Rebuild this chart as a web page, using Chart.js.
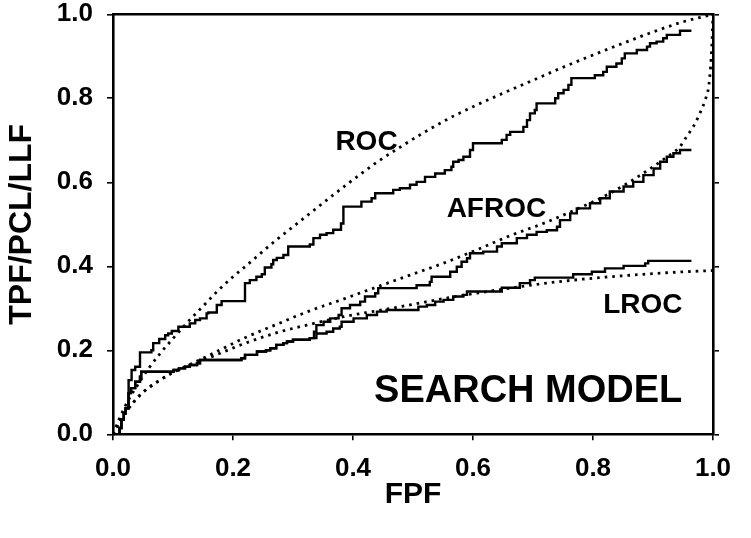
<!DOCTYPE html>
<html>
<head>
<meta charset="utf-8">
<script src="https://cdn.jsdelivr.net/npm/chart.js@4"></script>
<style>
  html, body { margin: 0; padding: 0; background: #fff; }
  #wrap { width: 751px; height: 538px; }
</style>
</head>
<body>
<div id="wrap"><canvas id="c" width="751" height="538"></canvas></div>
<script>
// ---- data (FPF, value) pairs ----
const rocEmpirical = [[0,0],[0.011,0.015],[0.014,0.035],[0.018,0.05],[0.021,0.062],[0.026,0.129],[0.031,0.153],[0.037,0.161],[0.045,0.195],[0.064,0.2],[0.067,0.217],[0.077,0.227],[0.087,0.236],[0.092,0.24],[0.098,0.246],[0.109,0.256],[0.128,0.264],[0.137,0.272],[0.145,0.276],[0.156,0.288],[0.159,0.29],[0.173,0.308],[0.181,0.317],[0.22,0.36],[0.228,0.367],[0.239,0.375],[0.248,0.381],[0.253,0.397],[0.264,0.405],[0.267,0.415],[0.273,0.42],[0.284,0.427],[0.292,0.447],[0.328,0.452],[0.334,0.467],[0.345,0.475],[0.356,0.479],[0.367,0.487],[0.38,0.502],[0.384,0.542],[0.414,0.554],[0.431,0.562],[0.437,0.574],[0.467,0.582],[0.478,0.586],[0.495,0.594],[0.506,0.601],[0.52,0.613],[0.537,0.621],[0.553,0.629],[0.564,0.637],[0.567,0.649],[0.576,0.653],[0.584,0.661],[0.595,0.677],[0.6,0.693],[0.648,0.701],[0.656,0.713],[0.662,0.72],[0.684,0.732],[0.69,0.748],[0.695,0.764],[0.703,0.772],[0.706,0.788],[0.737,0.8],[0.742,0.812],[0.751,0.82],[0.759,0.832],[0.764,0.848],[0.803,0.855],[0.817,0.863],[0.823,0.875],[0.839,0.883],[0.848,0.895],[0.853,0.907],[0.873,0.915],[0.89,0.923],[0.895,0.931],[0.906,0.935],[0.917,0.943],[0.923,0.951],[0.945,0.961],[0.964,0.961]];

const lowerSharedEmpirical = [[0,0],[0.011,0.015],[0.014,0.035],[0.018,0.05],[0.021,0.062],[0.026,0.098],[0.03,0.11],[0.037,0.125],[0.045,0.137],[0.047,0.149],[0.101,0.153],[0.11,0.157],[0.12,0.161],[0.128,0.165],[0.14,0.169],[0.145,0.177],[0.214,0.181],[0.22,0.189],[0.24,0.197],[0.255,0.2],[0.262,0.205],[0.272,0.213],[0.284,0.217],[0.29,0.221],[0.3,0.225],[0.328,0.229]];

const afrocEmpiricalTail = [[0.335,0.244],[0.339,0.26],[0.351,0.268],[0.362,0.276],[0.376,0.284],[0.381,0.3],[0.395,0.308],[0.412,0.316],[0.42,0.328],[0.437,0.336],[0.442,0.348],[0.506,0.355],[0.528,0.363],[0.531,0.375],[0.562,0.387],[0.573,0.399],[0.581,0.411],[0.59,0.419],[0.595,0.431],[0.617,0.435],[0.64,0.447],[0.648,0.455],[0.673,0.467],[0.69,0.475],[0.706,0.482],[0.723,0.486],[0.74,0.494],[0.745,0.51],[0.762,0.526],[0.773,0.538],[0.795,0.55],[0.812,0.562],[0.828,0.578],[0.851,0.59],[0.867,0.601],[0.884,0.617],[0.901,0.633],[0.912,0.649],[0.923,0.661],[0.934,0.669],[0.945,0.677],[0.964,0.677]];

const lrocEmpiricalTail = [[0.339,0.24],[0.356,0.244],[0.367,0.252],[0.378,0.256],[0.381,0.268],[0.401,0.276],[0.423,0.284],[0.44,0.292],[0.456,0.296],[0.509,0.304],[0.523,0.308],[0.537,0.316],[0.551,0.32],[0.567,0.328],[0.584,0.332],[0.59,0.34],[0.648,0.349],[0.678,0.36],[0.695,0.367],[0.703,0.373],[0.767,0.381],[0.798,0.387],[0.82,0.395],[0.851,0.401],[0.887,0.407],[0.892,0.413],[0.964,0.413]];

const rocModel = [[0,0],[0.01,0.035],[0.025,0.08],[0.04,0.115],[0.06,0.158],[0.08,0.195],[0.1,0.228],[0.125,0.268],[0.15,0.305],[0.175,0.342],[0.2,0.375],[0.225,0.405],[0.25,0.436],[0.275,0.466],[0.3,0.494],[0.33,0.528],[0.36,0.562],[0.4,0.606],[0.44,0.648],[0.48,0.685],[0.52,0.72],[0.56,0.752],[0.6,0.78],[0.65,0.812],[0.7,0.843],[0.75,0.874],[0.8,0.903],[0.85,0.931],[0.9,0.958],[0.95,0.982],[1,1]];

const afrocModel = [[0,0],[0.012,0.032],[0.023,0.056],[0.034,0.076],[0.05,0.1],[0.075,0.126],[0.1,0.147],[0.134,0.17],[0.17,0.195],[0.217,0.228],[0.273,0.262],[0.328,0.294],[0.384,0.322],[0.44,0.351],[0.495,0.379],[0.55,0.407],[0.606,0.439],[0.662,0.473],[0.717,0.502],[0.773,0.536],[0.83,0.575],[0.88,0.618],[0.92,0.657],[0.945,0.685],[0.956,0.709],[0.967,0.732],[0.978,0.764],[0.987,0.796],[0.993,0.83],[0.996,0.875],[0.998,0.923],[1,1]];

const lrocModel = [[0,0],[0.012,0.032],[0.023,0.056],[0.034,0.076],[0.05,0.1],[0.075,0.126],[0.1,0.147],[0.134,0.168],[0.17,0.188],[0.217,0.215],[0.273,0.242],[0.323,0.26],[0.384,0.28],[0.44,0.294],[0.495,0.308],[0.55,0.323],[0.606,0.336],[0.662,0.348],[0.717,0.359],[0.773,0.368],[0.828,0.375],[0.884,0.381],[0.939,0.386],[1,0.39]];

const tickValues = [0, 0.2, 0.4, 0.6, 0.8, 1.0];
const curveLabels = ['ROC', 'AFROC', 'LROC'];
const modelLabel = 'SEARCH MODEL';
const xTitle = 'FPF';
const yTitle = 'TPF/PCL/LLF';

// ---- build ----
const toPts = arr => arr.map(p => ({x: p[0], y: p[1]}));
const FONT = "'Liberation Sans', Arial, sans-serif";

const solid = (label, arr) => ({
  label, data: toPts(arr), stepped: 'before',
  borderColor: '#000', borderWidth: 2.4, pointRadius: 0, fill: false
});
const dotted = (label, arr) => ({
  label, data: toPts(arr), cubicInterpolationMode: 'monotone',
  borderColor: '#000', borderWidth: 2.8, borderDash: [2.6, 5], borderCapStyle: 'butt',
  pointRadius: 0, fill: false
});

// text annotation placement (data coords, baseline)
const annotations = [
  {text: curveLabels[0], x: 0.4225, y: 0.677, size: 28},
  {text: curveLabels[1], x: 0.639, y: 0.517, size: 28},
  {text: curveLabels[2], x: 0.883, y: 0.29, size: 28},
  {text: modelLabel, x: 0.692, y: 0.0776, size: 38}
];

const textPlugin = {
  id: 'texts',
  afterDatasetsDraw(chart) {
    const {ctx, scales} = chart;
    ctx.save();
    ctx.fillStyle = '#000';
    ctx.textAlign = 'center';
    ctx.textBaseline = 'alphabetic';
    annotations.forEach(a => {
      ctx.font = `bold ${a.size}px ${FONT}`;
      ctx.fillText(a.text, scales.x.getPixelForValue(a.x), scales.y.getPixelForValue(a.y));
    });
    ctx.restore();
  }
};

const tickCommon = {
  stepSize: 0.2,
  autoSkip: false,
  maxRotation: 0,
  color: '#000',
  font: {family: FONT, size: 26, weight: 'bold'},
  callback: v => (Math.round(v * 10) / 10).toFixed(1)
};
const gridCommon = {display: true, drawOnChartArea: false, drawTicks: true, tickLength: 6, color: '#000', lineWidth: 1.6};
const borderCommon = {display: true, color: '#000', width: 2.6};
const noPad = s => { s.paddingTop = 0; s.paddingBottom = 0; s.paddingLeft = 0; s.paddingRight = 0; };

new Chart(document.getElementById('c'), {
  type: 'line',
  data: {
    datasets: [
      solid('ROC empirical', rocEmpirical),
      solid('AFROC empirical', lowerSharedEmpirical.concat(afrocEmpiricalTail)),
      solid('LROC empirical', lowerSharedEmpirical.concat(lrocEmpiricalTail)),
      dotted('ROC model', rocModel),
      dotted('AFROC model', afrocModel),
      dotted('LROC model', lrocModel)
    ]
  },
  options: {
    responsive: false,
    devicePixelRatio: 1,
    animation: false,
    layout: {padding: 0},
    plugins: {legend: {display: false}, tooltip: {enabled: false}},
    scales: {
      x: {
        type: 'linear', position: 'bottom', min: 0, max: 1,
        afterBuildTicks: s => { s.ticks = tickValues.map(v => ({value: v})); },
        ticks: Object.assign({}, tickCommon, {padding: 13}),
        grid: gridCommon, border: borderCommon,
        title: {display: true, text: xTitle, color: '#000', font: {family: FONT, size: 30, weight: 'bold'}, padding: {top: 0, bottom: 25}},
        afterFit: s => { s.height = 103.7; noPad(s); }
      },
      xTop: {
        type: 'linear', position: 'top', min: 0, max: 1,
        ticks: {display: false}, grid: {display: false}, border: borderCommon,
        afterFit: s => { s.height = 14.3; noPad(s); }
      },
      y: {
        type: 'linear', position: 'left', min: 0, max: 1,
        afterBuildTicks: s => { s.ticks = tickValues.map(v => ({value: v})); },
        ticks: Object.assign({}, tickCommon, {padding: 14}),
        grid: gridCommon, border: borderCommon,
        title: {display: true, text: yTitle, color: '#000', font: {family: FONT, size: 32, weight: 'bold'}, padding: {top: 3, bottom: 0}},
        afterFit: s => { s.width = 113; noPad(s); }
      },
      yRight: {
        type: 'linear', position: 'right', min: 0, max: 1,
        afterBuildTicks: s => { s.ticks = tickValues.map(v => ({value: v})); },
        ticks: {display: false},
        grid: gridCommon, border: borderCommon,
        afterFit: s => { s.width = 38; noPad(s); }
      }
    }
  },
  plugins: [textPlugin]
});
</script>
</body>
</html>
